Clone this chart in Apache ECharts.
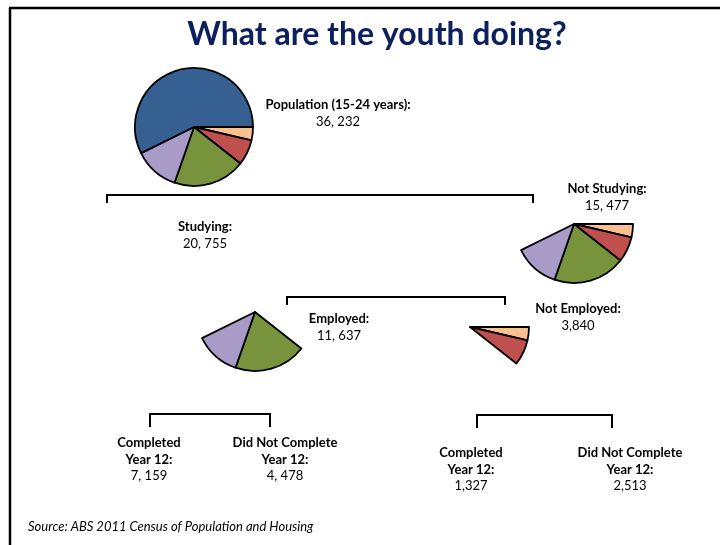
<!DOCTYPE html>
<html>
<head>
<meta charset="utf-8">
<script src="https://cdn.jsdelivr.net/npm/echarts@6/dist/echarts.min.js"></script>
<style>
  html, body { margin: 0; padding: 0; background: #ffffff; }
  #chart { width: 720px; height: 545px; }
</style>
</head>
<body>
<div id="chart"></div>
<script>
// Young people aged 15-24: study, work and Year 12 completion (ABS 2011 Census)
// Slice order runs clockwise from 3 o'clock.
const segmentNames = [
  'Not employed, completed Year 12',
  'Not employed, did not complete Year 12',
  'Employed, completed Year 12',
  'Employed, did not complete Year 12',
  'Studying'
];
const segmentValues = [1327, 2513, 7159, 4478, 20755];
const segmentColors = ['#FAC090', '#C0504D', '#77933C', '#A89BC7', '#376092'];

// Which segments each pie shows (indices into segmentNames)
const populationSlices = [0, 1, 2, 3, 4];
const notStudyingSlices = [0, 1, 2, 3];
const employedSlices = [2, 3];
const notEmployedSlices = [0, 1];

const sumOf = idx => idx.reduce((s, i) => s + segmentValues[i], 0);
const fmt = (v, sep) => {
  const s = String(v);
  return s.length > 3 ? s.slice(0, -3) + sep + s.slice(-3) : s;
};

const population = sumOf(populationSlices);
const notStudying = sumOf(notStudyingSlices);
const employed = sumOf(employedSlices);
const notEmployed = sumOf(notEmployedSlices);

const FONT = 'Lato, "Open Sans", sans-serif';

function pieSeries(name, shown, center) {
  return {
    type: 'pie',
    name: name,
    center: center,
    radius: [0, 59],
    startAngle: 0,
    clockwise: true,
    silent: true,
    animation: false,
    label: { show: false },
    labelLine: { show: false },
    emphasis: { disabled: true },
    data: segmentNames.map((n, i) => {
      const on = shown.indexOf(i) >= 0;
      return {
        name: n,
        value: segmentValues[i],
        itemStyle: on
          ? { color: segmentColors[i], borderColor: '#000000', borderWidth: 1.8 }
          : { color: 'rgba(0,0,0,0)', borderWidth: 0 }
      };
    })
  };
}

function label(x, y, lines) {
  // lines: [text, bold]
  return lines.map((l, k) => ({
    type: 'text',
    x: x,
    y: y + k * 16.5,
    style: {
      text: l[0],
      fill: '#000000',
      font: (l[1] ? 'bold ' : '') + '13px ' + FONT,
      textAlign: 'center',
      textVerticalAlign: 'middle'
    },
    silent: true
  }));
}

function bracket(x1, x2, y, drop) {
  return {
    type: 'polyline',
    shape: { points: [[x1, y + drop], [x1, y], [x2, y], [x2, y + drop]] },
    style: { stroke: '#000000', lineWidth: 2, fill: null },
    silent: true
  };
}

const graphics = [
  // slide frame
  { type: 'line', shape: { x1: 9, y1: 8, x2: 720, y2: 8 }, style: { stroke: '#000', lineWidth: 2.5 } },
  { type: 'line', shape: { x1: 10, y1: 8, x2: 10, y2: 545 }, style: { stroke: '#000', lineWidth: 2.5 } },
  {
    type: 'text', x: 377, y: 35,
    style: {
      text: 'What are the youth doing?', fill: '#0C1F5E',
      font: 'bold 32px ' + FONT, textAlign: 'center', textVerticalAlign: 'middle'
    }
  },
  bracket(107, 533, 195, 8),
  bracket(287, 505, 297, 8),
  bracket(150, 270, 414, 13),
  bracket(477, 612, 415, 13),
  {
    type: 'text', x: 28, y: 527,
    style: {
      text: 'Source: ABS 2011 Census of Population and Housing', fill: '#000000',
      font: 'italic 13px ' + FONT, textAlign: 'left', textVerticalAlign: 'middle'
    }
  }
]
  .concat(label(338, 105, [['Population (15-24 years):', true], [fmt(population, ', '), false]]))
  .concat(label(607, 189, [['Not Studying:', true], [fmt(notStudying, ', '), false]]))
  .concat(label(205, 227, [['Studying:', true], [fmt(segmentValues[4], ', '), false]]))
  .concat(label(339, 319, [['Employed:', true], [fmt(employed, ', '), false]]))
  .concat(label(578, 309, [['Not Employed:', true], [fmt(notEmployed, ','), false]]))
  .concat(label(149, 443, [['Completed', true], ['Year 12:', true], [fmt(segmentValues[2], ', '), false]]))
  .concat(label(285, 443, [['Did Not Complete', true], ['Year 12:', true], [fmt(segmentValues[3], ', '), false]]))
  .concat(label(471, 453, [['Completed', true], ['Year 12:', true], [fmt(segmentValues[0], ','), false]]))
  .concat(label(630, 453, [['Did Not Complete', true], ['Year 12:', true], [fmt(segmentValues[1], ','), false]]));

const chart = echarts.init(document.getElementById('chart'), null, { renderer: 'canvas' });
chart.setOption({
  backgroundColor: '#ffffff',
  animation: false,
  series: [
    pieSeries('Population', populationSlices, [194, 127]),
    pieSeries('Not studying', notStudyingSlices, [574, 224]),
    pieSeries('Employed', employedSlices, [255, 312]),
    pieSeries('Not employed', notEmployedSlices, [470, 327])
  ],
  graphic: graphics
});
</script>
</body>
</html>
